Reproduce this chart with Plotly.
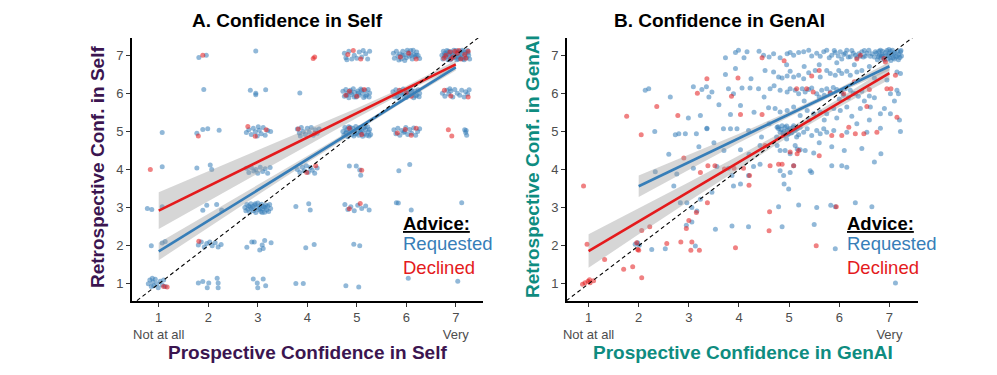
import numpy as np
import plotly.graph_objects as go

# ---- data ----
# Panel A: confidence in self (prospective x, retrospective y), jittered ratings
self_requested = [
    # row 7
    (1.81, 6.94), (1.96, 7.0), (2.96, 7.11),
    (4.75, 7.05), (4.78, 6.93), (4.84, 7.1), (4.9, 6.9), (4.95, 7.0), (5.05, 7.08), (5.1, 6.95),
    (5.18, 7.04), (5.22, 6.9), (5.26, 7.1), (4.8, 6.88), (5.13, 7.12), (5.0, 6.92),
    (5.74, 7.05), (5.76, 6.92), (5.8, 7.1), (5.83, 6.98), (5.87, 7.03), (5.9, 6.9), (5.93, 7.1),
    (5.96, 7.0), (6.0, 6.93), (6.03, 7.06), (6.06, 6.97), (6.09, 7.12), (6.12, 6.9), (6.15, 7.02),
    (6.18, 6.95), (6.21, 7.08), (6.24, 6.99), (6.27, 6.91), (5.85, 6.87), (6.02, 7.13), (6.14, 7.13),
    (5.97, 6.86), (6.1, 7.0), (5.92, 7.0), (6.2, 7.0),
    (6.72, 7.0), (6.74, 6.9), (6.75, 7.1), (6.78, 7.05), (6.8, 6.95), (6.82, 7.12), (6.84, 6.88),
    (6.86, 7.02), (6.88, 6.97), (6.9, 7.09), (6.92, 6.91), (6.94, 7.04), (6.96, 7.13), (6.98, 6.94),
    (7.0, 7.0), (7.02, 6.88), (7.04, 7.08), (7.06, 6.96), (7.08, 7.11), (7.1, 6.92), (7.12, 7.03),
    (7.14, 6.9), (7.16, 7.1), (7.18, 6.98), (7.2, 7.06), (7.22, 6.93), (7.24, 7.12), (7.26, 7.0),
    (7.28, 6.9), (6.77, 6.98), (6.85, 7.1), (6.93, 7.0), (7.01, 7.12), (7.09, 7.0), (7.17, 6.88),
    (7.25, 7.06), (6.89, 6.87), (7.05, 6.9), (7.13, 7.13), (6.81, 7.03),
    # row 6
    (1.91, 6.1), (2.85, 6.08), (2.96, 6.0), (2.96, 5.96), (3.16, 6.09), (3.85, 6.01),
    (4.72, 6.05), (4.75, 5.92), (4.78, 6.1), (4.81, 6.0), (4.84, 5.88), (4.87, 6.08), (4.9, 5.97),
    (4.93, 6.12), (4.96, 6.02), (4.99, 5.9), (5.02, 6.06), (5.05, 5.95), (5.08, 6.11), (5.11, 6.0),
    (5.14, 5.89), (5.17, 6.07), (5.2, 5.96), (5.23, 6.1), (5.26, 6.01), (4.8, 5.95), (4.95, 5.9),
    (5.1, 6.08), (5.25, 5.9), (4.88, 6.02), (5.03, 6.0), (5.18, 5.92),
    (5.73, 6.04), (5.76, 5.91), (5.79, 6.09), (5.82, 5.99), (5.85, 5.87), (5.88, 6.07), (5.91, 5.96),
    (5.94, 6.11), (5.97, 6.01), (6.0, 5.89), (6.03, 6.05), (6.06, 5.94), (6.09, 6.1), (6.12, 5.99),
    (6.15, 5.88), (6.18, 6.06), (6.21, 5.95), (6.24, 6.09), (6.27, 6.0), (5.81, 5.94), (5.96, 5.9),
    (6.11, 6.07), (6.26, 5.91), (5.89, 6.01), (6.04, 5.99), (6.19, 5.93),
    (6.73, 6.0), (6.78, 5.92), (6.82, 6.08), (6.86, 5.98), (6.9, 6.06), (6.94, 5.9), (6.98, 6.1),
    (7.03, 6.0), (7.08, 5.95), (7.12, 6.08), (7.17, 5.9), (7.2, 6.04), (7.24, 5.98), (7.27, 6.09),
    (6.88, 6.12),
    # row 5
    (1.07, 4.97), (1.77, 4.95), (1.89, 5.05), (1.99, 5.07), (2.22, 5.03),
    (2.77, 4.97), (2.82, 5.04), (2.87, 4.92), (2.91, 5.08), (2.95, 4.99), (2.99, 4.88), (3.03, 5.03),
    (3.07, 4.94), (3.11, 5.1), (3.15, 4.9), (3.2, 5.02), (3.26, 5.0), (3.01, 5.12),
    (3.8, 5.06), (3.84, 4.96), (3.88, 5.1), (3.92, 5.0), (3.96, 4.92), (4.0, 5.08), (4.04, 4.98),
    (4.08, 5.1), (4.12, 4.9), (4.16, 5.04), (4.2, 4.95), (4.24, 5.06), (3.86, 4.88),
    (4.72, 5.0), (4.74, 4.9), (4.76, 5.1), (4.78, 4.95), (4.8, 5.05), (4.82, 4.86), (4.84, 5.12),
    (4.86, 4.98), (4.88, 5.03), (4.9, 4.92), (4.92, 5.08), (4.94, 4.88), (4.96, 5.0), (4.98, 5.13),
    (5.0, 4.95), (5.02, 5.06), (5.04, 4.9), (5.06, 5.1), (5.08, 4.97), (5.1, 5.02), (5.12, 4.87),
    (5.14, 5.09), (5.16, 4.94), (5.18, 5.04), (5.2, 4.9), (5.22, 5.12), (5.24, 4.99), (5.26, 5.05),
    (5.28, 4.92), (4.79, 4.98), (4.87, 5.1), (4.97, 4.93), (5.07, 5.0), (5.17, 5.13), (5.25, 4.88),
    (5.75, 5.04), (5.79, 4.94), (5.83, 5.08), (5.87, 4.9), (5.91, 5.02), (5.95, 4.97), (5.99, 5.1),
    (6.03, 4.92), (6.07, 5.05), (6.11, 4.95), (6.15, 5.09), (6.19, 4.9), (6.23, 5.0), (6.27, 5.07),
    (5.97, 5.0),
    (7.18, 5.04), (7.2, 4.97), (7.22, 4.9), (7.21, 5.02),
    # row 4
    (1.07, 4.07), (1.77, 4.04), (2.04, 4.12), (2.07, 4.0),
    (2.77, 4.03), (2.82, 3.92), (2.87, 4.05), (2.92, 3.96), (2.96, 4.0), (3.0, 3.9), (3.05, 4.06),
    (3.1, 3.95), (3.15, 4.02), (3.2, 3.9), (3.25, 4.05),
    (3.8, 4.0), (3.85, 3.92), (3.9, 4.06), (3.94, 3.97), (3.98, 4.1), (4.02, 3.93), (4.06, 4.05),
    (4.1, 3.98), (4.15, 3.9), (4.2, 4.04),
    (4.85, 4.09), (4.99, 4.09), (5.06, 3.99), (5.08, 3.85), (6.07, 4.13), (5.85, 3.97),
    # row 3
    (0.77, 2.98), (0.86, 2.95), (1.07, 3.02),
    (1.89, 2.93), (1.97, 3.06), (2.17, 3.08), (2.27, 2.94),
    (2.74, 3.0), (2.76, 2.92), (2.78, 3.08), (2.8, 2.96), (2.82, 3.04), (2.84, 2.88), (2.86, 3.1),
    (2.88, 2.98), (2.9, 3.03), (2.92, 2.92), (2.94, 3.07), (2.96, 2.87), (2.98, 3.0), (3.0, 3.12),
    (3.02, 2.95), (3.04, 3.05), (3.06, 2.9), (3.08, 3.09), (3.1, 2.97), (3.12, 3.02), (3.14, 2.88),
    (3.16, 3.07), (3.18, 2.94), (3.2, 3.04), (3.22, 2.9), (3.24, 3.08), (3.26, 2.98), (2.85, 3.0),
    (2.95, 3.1), (3.05, 2.98), (3.15, 3.0), (3.09, 2.87),
    (3.77, 3.03), (4.03, 3.1), (4.06, 2.94),
    (4.76, 3.08), (4.82, 2.95), (4.88, 3.02), (4.95, 2.92), (5.02, 3.06), (5.1, 2.98), (5.18, 3.04),
    (5.25, 2.94), (5.8, 3.13), (5.84, 3.12), (6.1, 2.94), (7.12, 3.13),
    # row 2
    (0.85, 2.0), (1.07, 2.07), (1.13, 2.11),
    (1.8, 2.02), (1.86, 2.1), (1.92, 1.97), (1.97, 2.06), (2.03, 2.1), (2.08, 2.0), (2.14, 2.08),
    (2.2, 1.97), (2.26, 2.03),
    (2.78, 1.96), (2.88, 2.1), (2.93, 2.1), (3.04, 1.89), (3.11, 1.93), (3.14, 2.14), (3.27, 2.08),
    (3.09, 2.02), (3.97, 1.95), (4.14, 2.03), (4.94, 2.04), (5.06, 2.0),
    # row 1
    (0.79, 1.0), (0.82, 1.1), (0.85, 0.93), (0.88, 1.05), (0.9, 0.95), (0.93, 1.12), (0.96, 1.0),
    (0.99, 0.9), (1.03, 1.07), (1.07, 0.97), (1.1, 1.1), (1.13, 0.93), (0.87, 1.15),
    (1.8, 1.02), (1.89, 1.06), (1.98, 0.9), (2.01, 1.02), (2.18, 1.15), (2.2, 1.02), (2.2, 0.9),
    (2.91, 1.13), (2.99, 1.02), (3.0, 0.9), (3.11, 1.13), (3.16, 0.95),
    (3.77, 1.01), (3.92, 1.01), (4.78, 0.95), (5.04, 0.92), (6.04, 1.15), (7.04, 1.07),
]
self_declined = [
    (1.89, 7.0), (4.12, 6.91), (4.15, 6.95), (4.82, 7.02), (5.08, 6.9), (4.93, 7.12),
    (5.88, 6.95), (6.05, 7.05), (6.2, 6.9),
    (6.8, 7.0), (6.88, 7.08), (6.95, 6.95), (7.03, 7.05), (7.1, 6.9), (7.18, 7.02), (7.25, 7.1),
    (6.9, 6.9), (7.06, 7.12), (7.2, 6.92), (6.76, 6.92), (6.98, 7.1),
    (4.85, 6.05), (5.0, 5.92), (5.15, 6.1), (4.78, 5.95), (5.86, 6.08), (6.1, 5.92), (6.0, 6.02),
    (6.77, 6.08), (6.9, 5.93), (7.25, 5.9),
    (1.8, 4.88), (2.8, 5.13), (3.17, 5.04), (2.95, 4.87), (3.82, 5.06), (4.15, 4.95),
    (4.85, 5.08), (5.1, 4.92), (5.82, 4.96), (5.98, 5.05), (6.1, 4.9), (6.2, 5.08),
    (6.85, 5.04), (6.92, 4.88),
    (0.83, 4.0), (3.99, 3.92), (4.17, 4.1), (5.1, 3.98),
    (4.85, 2.97), (5.07, 3.11), (1.81, 2.12), (1.17, 0.92), (1.1, 0.93),
]

# Panel B: confidence in GenAI
genai_requested = [
    # top band (~7)
    (3.73, 6.93), (3.93, 7.07), (3.99, 7.13), (4.16, 7.09), (4.49, 7.0), (4.69, 7.04), (4.82, 6.93),
    (4.96, 7.04), (5.02, 7.07), (5.09, 7.0), (5.19, 7.07), (5.29, 7.09), (5.39, 7.13), (5.69, 7.09),
    (5.75, 7.13), (5.85, 7.0), (5.92, 7.07), (6.02, 7.09), (6.09, 7.02), (6.15, 7.13), (6.22, 6.96),
    (6.39, 7.04), (6.45, 7.09), (6.52, 6.98), (6.59, 7.13), (6.65, 7.04), (6.72, 7.09), (6.78, 6.96),
    (6.82, 7.13), (6.85, 7.02), (6.92, 7.07), (6.98, 7.0), (7.02, 7.11), (7.08, 7.04), (7.15, 6.98),
    (7.22, 7.09),
    (6.7, 6.95), (6.74, 7.05), (6.76, 6.88), (6.8, 7.0), (6.83, 6.92), (6.86, 7.1), (6.88, 6.97),
    (6.9, 6.87), (6.93, 6.99), (6.95, 7.12), (6.97, 6.9), (7.0, 7.05), (7.01, 6.93), (7.03, 6.86),
    (7.05, 7.0), (7.06, 7.13), (7.1, 6.9), (7.11, 7.07), (7.13, 6.95), (7.16, 7.1), (7.18, 6.88),
    (7.19, 7.02), (7.21, 6.94), (7.23, 7.12), (7.24, 6.98), (6.79, 7.1), (6.84, 6.98), (6.99, 7.15),
    (7.07, 6.93), (6.62, 6.97), (6.55, 7.05), (6.48, 6.95), (6.35, 6.93), (6.28, 7.05),
    (5.55, 7.05), (5.62, 6.97), (5.8, 6.93), (5.9, 7.12), (5.98, 6.98), (6.05, 6.9), (6.12, 7.05),
    (6.18, 6.95), (6.25, 7.12), (6.32, 7.0), (6.42, 6.97), (6.5, 7.12), (5.45, 6.98), (4.4, 7.1),
    (4.6, 6.95), (4.1, 6.93),
    # ~6.5
    (3.73, 6.49), (3.93, 6.65), (4.24, 6.38), (4.52, 6.6), (4.69, 6.56), (4.79, 6.43), (4.86, 6.4),
    (4.96, 6.45), (5.02, 6.58), (5.09, 6.43), (5.19, 6.47), (5.29, 6.38), (5.39, 6.54), (5.52, 6.6),
    (5.62, 6.43), (5.75, 6.6), (5.82, 6.52), (5.92, 6.47), (5.99, 6.6), (6.05, 6.52), (6.15, 6.58),
    (6.22, 6.47), (6.35, 6.56), (6.45, 6.6), (7.15, 6.56), (7.22, 6.52),
    (6.95, 6.35), (6.7, 6.4), (6.6, 6.7), (6.3, 6.75), (5.95, 6.8), (5.6, 6.75), (5.3, 6.7),
    (4.95, 6.75),
    # ~6
    (2.13, 6.08), (2.2, 6.12), (2.63, 5.9), (3.09, 6.17), (3.26, 6.1), (3.35, 6.17), (3.46, 6.03),
    (3.79, 6.12), (3.89, 5.99), (4.06, 6.14), (4.22, 6.14), (4.39, 6.12), (4.62, 6.12), (4.82, 6.08),
    (4.96, 6.03), (5.02, 6.12), (5.12, 6.08), (5.19, 5.99), (5.26, 6.12), (5.32, 6.03), (5.39, 6.1),
    (5.45, 6.14), (5.55, 5.99), (5.65, 6.08), (5.75, 6.12), (5.82, 6.03), (5.95, 6.1), (6.05, 6.03),
    (6.12, 6.12), (6.22, 6.08), (6.32, 5.99), (7.02, 5.99), (7.15, 6.08), (7.18, 5.99),
    (5.7, 5.95), (5.88, 6.15), (6.0, 5.85), (6.08, 5.95), (6.18, 5.88), (6.28, 6.0), (6.38, 5.92),
    (5.6, 5.9), (6.45, 6.05), (6.6, 5.93), (6.7, 5.88), (6.5, 5.8),
    (4.7, 6.2), (4.5, 5.9), (5.3, 5.8), (7.1, 5.8), (3.6, 5.7), (3.4, 5.9),
    # ~5.5
    (2.99, 5.35), (3.23, 5.42), (3.36, 5.08), (3.83, 5.44), (4.03, 5.68), (4.59, 5.62), (4.72, 5.6),
    (4.82, 5.51), (4.96, 5.55), (5.09, 5.64), (5.22, 5.42), (5.36, 5.55), (5.49, 5.46), (5.62, 5.51),
    (5.75, 5.46), (5.89, 5.6), (6.02, 5.55), (6.15, 5.64), (6.42, 5.6), (6.62, 5.64), (6.82, 5.46),
    (7.02, 5.46),
    (5.4, 5.3), (5.7, 5.3), (5.95, 5.35), (6.25, 5.4), (6.35, 5.2), (6.6, 5.3), (6.9, 5.6),
    (7.2, 5.3), (4.3, 5.5), (4.6, 5.2),
    # ~5
    (2.32, 5.0), (2.73, 4.91), (2.8, 4.94), (2.93, 4.94), (3.15, 4.94), (3.36, 5.07), (3.69, 5.07),
    (3.83, 5.07), (3.96, 5.07), (4.19, 5.02), (4.76, 5.11), (4.79, 5.07), (4.82, 4.98), (4.86, 5.15),
    (4.89, 4.89), (4.92, 5.11), (4.96, 5.02), (4.99, 4.94), (5.02, 5.08), (5.06, 4.98), (5.09, 5.15),
    (5.12, 5.02), (5.16, 5.07), (5.19, 4.91), (5.22, 5.11), (5.29, 4.98), (5.36, 5.07), (5.45, 4.89),
    (5.55, 5.02), (5.62, 4.94), (5.69, 5.07), (5.75, 4.98), (5.89, 5.02), (6.15, 4.98), (6.55, 4.98),
    (6.82, 5.08), (7.22, 5.0),
    (4.78, 5.12), (4.84, 5.05), (4.9, 5.0), (4.95, 5.14), (5.0, 5.04), (5.04, 4.96), (5.08, 5.1),
    (4.88, 4.96), (4.97, 4.92), (5.1, 5.05), (4.45, 4.85), (4.75, 4.85), (4.95, 4.8), (5.15, 4.85),
    # ~4.5
    (4.03, 4.52), (4.42, 4.63), (4.76, 4.63), (4.82, 4.5), (4.92, 4.5), (5.02, 4.41), (5.12, 4.63),
    (5.16, 4.54), (5.22, 4.52), (5.32, 4.5), (5.49, 4.43), (6.83, 4.41),
    (5.6, 4.7), (5.85, 4.6), (6.1, 4.5), (6.45, 4.55), (6.7, 4.2), (4.2, 4.4), (3.7, 4.5),
    (3.5, 4.7), (3.2, 4.6), (2.6, 4.4),
    # ~4
    (2.33, 3.94), (2.76, 3.88), (3.09, 4.03), (3.56, 4.08), (3.79, 4.03), (3.86, 3.84), (4.19, 3.84),
    (4.29, 4.08), (4.42, 4.14), (4.82, 3.97), (4.89, 3.84), (5.02, 3.92), (5.09, 4.1), (5.42, 3.97),
    (5.45, 3.92), (5.85, 4.1), (6.05, 4.1), (6.15, 4.06),
    # ~3.5 and below
    (2.7, 3.57), (2.83, 3.13), (2.96, 3.13), (3.23, 3.22), (3.46, 3.4), (3.89, 3.57), (4.03, 3.62),
    (4.9, 3.62), (4.99, 3.49),
    (3.06, 3.0), (3.16, 2.91), (4.79, 3.02), (5.19, 3.07), (5.55, 3.0), (5.83, 3.06), (5.92, 3.02),
    (6.32, 3.13), (6.65, 3.02),
    (2.95, 2.54), (3.06, 2.62), (3.53, 2.43), (3.86, 2.52), (4.19, 2.5), (4.86, 2.5), (5.5, 2.56),
    (1.93, 2.04), (1.98, 2.08), (2.01, 2.01), (2.26, 1.9), (2.53, 1.92), (3.13, 1.99), (5.92, 1.92),
    (7.12, 1.02),
]
genai_declined = [
    (0.9, 3.57), (0.97, 2.04), (0.99, 1.07), (1.02, 1.11), (0.88, 0.99), (0.93, 1.03), (1.03, 1.03),
    (1.1, 1.08), (1.32, 1.64), (1.7, 1.38), (1.88, 1.45), (2.06, 1.16), (1.96, 2.08), (1.98, 1.9),
    (2.0, 1.88), (2.06, 2.4), (2.22, 2.5), (1.76, 5.4), (2.05, 4.91), (2.36, 5.65), (2.78, 5.42),
    (3.17, 6.0), (3.36, 6.38), (3.85, 5.92), (3.98, 6.4), (4.46, 6.93), (2.84, 2.1), (3.06, 2.1),
    (3.04, 1.88), (3.21, 1.88), (2.56, 2.06), (2.95, 2.45), (3.15, 2.87), (3.37, 3.13), (3.23, 3.92),
    (3.38, 4.1), (3.52, 4.1), (3.71, 4.01), (3.9, 4.03), (4.09, 4.03), (4.21, 3.84), (4.2, 3.59),
    (3.93, 1.95), (4.61, 2.89), (4.6, 2.39), (4.03, 5.44), (4.46, 5.44), (4.52, 4.63), (4.62, 4.1),
    (4.79, 4.14), (4.86, 4.14), (5.09, 4.1), (5.16, 4.41), (5.19, 4.5), (5.02, 4.46), (5.54, 2.0),
    (5.94, 3.02), (5.45, 6.45), (5.15, 6.12), (5.35, 6.12), (5.48, 6.03), (5.82, 6.01), (6.09, 5.99),
    (5.6, 4.36), (5.85, 4.89), (6.05, 4.89), (6.32, 4.94), (6.49, 4.94), (6.75, 4.98), (6.19, 5.11),
    (7.15, 5.37), (6.95, 6.12), (7.03, 6.12), (7.12, 6.47), (6.89, 6.91), (6.92, 6.82), (6.35, 6.9),
    (6.42, 7.0), (4.9, 6.85), (5.6, 6.6), (6.3, 6.3), (6.6, 6.1), (6.55, 5.65), (2.9, 4.3), (3.0, 2.66),
]

# fitted lines (end points) and half-width of the confidence band at each x
self_req_fit = ([1, 7], [1.85, 6.68])
self_dec_fit = ([1, 7], [2.92, 6.76])
genai_req_fit = ([2, 7], [3.56, 6.71])
genai_dec_fit = ([1, 7], [1.86, 6.53])
self_req_band = ([1, 2, 3, 4, 5, 6, 7], [0.23, 0.18, 0.13, 0.09, 0.06, 0.05, 0.08])
self_dec_band = ([1, 2, 3, 4, 5, 6, 7], [0.48, 0.39, 0.30, 0.21, 0.13, 0.07, 0.10])
genai_req_band = ([2, 3, 4, 5, 6, 7], [0.28, 0.19, 0.12, 0.07, 0.06, 0.11])
genai_dec_band = ([1, 2, 3, 4, 5, 6, 7], [0.44, 0.34, 0.25, 0.17, 0.11, 0.11, 0.17])

tick_vals = [1, 2, 3, 4, 5, 6, 7]
x_tick_text = ["1<br>Not at all", "2", "3", "4", "5", "6", "7<br>Very"]

BLUE = "#377EB8"
RED = "#E41A1C"
PURPLE = "#3B1550"
TEAL = "#0E8C80"
FONT = "Liberation Sans, Arial, sans-serif"

# the page body adds an 8px margin, so the figure is 8px smaller than the window
W, H = 989, 367


def px(x):
    return (x - 8) / W


def py(y):
    return 1 - (y - 8) / H


fig = go.Figure()


def add_panel(xa, ya, req, dec, fits, bands):
    for pts, col in [(req, BLUE), (dec, RED)]:
        fig.add_trace(go.Scatter(
            x=[p[0] for p in pts], y=[p[1] for p in pts], mode="markers",
            marker=dict(color=col, size=5, opacity=0.55, line=dict(width=0)),
            xaxis=xa, yaxis=ya, showlegend=False, hoverinfo="skip"))
    for (fx, fy), (bx, bw) in zip(fits, bands):
        bx = np.array(bx, dtype=float)
        by = np.interp(bx, fx, fy)
        lo = by - np.array(bw)
        hi = by + np.array(bw)
        fig.add_trace(go.Scatter(
            x=list(bx) + list(bx[::-1]), y=list(hi) + list(lo[::-1]),
            fill="toself", fillcolor="rgba(153,153,153,0.4)", line=dict(width=0),
            mode="lines", xaxis=xa, yaxis=ya, showlegend=False, hoverinfo="skip"))
    for (fx, fy), col in zip(fits, [BLUE, RED]):
        fig.add_trace(go.Scatter(
            x=fx, y=fy, mode="lines", line=dict(color=col, width=2.6),
            xaxis=xa, yaxis=ya, showlegend=False, hoverinfo="skip"))
    fig.add_trace(go.Scatter(
        x=[0, 8], y=[0, 8], mode="lines", line=dict(color="black", width=1.1, dash="4px,3px"),
        xaxis=xa, yaxis=ya, showlegend=False, hoverinfo="skip"))


add_panel("x", "y", self_requested, self_declined,
          [self_req_fit, self_dec_fit], [self_req_band, self_dec_band])
add_panel("x2", "y2", genai_requested, genai_declined,
          [genai_req_fit, genai_dec_fit], [genai_req_band, genai_dec_band])

axis_common = dict(
    showline=True, linecolor="black", linewidth=1.6, ticks="outside", ticklen=4,
    tickcolor="#333333", tickwidth=1, showgrid=False, zeroline=False,
    tickfont=dict(family=FONT, size=13, color="#4D4D4D"), tickvals=tick_vals,
    automargin=False,
)
ydom = [py(301), py(38)]
fig.update_layout(
    width=W, height=H, margin=dict(l=0, r=0, t=0, b=0),
    plot_bgcolor="white", paper_bgcolor="white",
    xaxis=dict(axis_common, domain=[px(132), px(483)], range=[0.46, 7.55],
               ticktext=x_tick_text, anchor="y"),
    yaxis=dict(axis_common, domain=ydom, range=[0.55, 7.45], anchor="x"),
    xaxis2=dict(axis_common, domain=[px(567), px(918)], range=[0.57, 7.57],
                ticktext=x_tick_text, anchor="y2"),
    yaxis2=dict(axis_common, domain=ydom, range=[0.55, 7.45], anchor="x2"),
)

ann = []
# panel titles (hung from the top edge so they are not clipped)
ann.append(dict(text="<b>A. Confidence in Self</b>", x=px(287), y=1, yanchor="top",
                font=dict(size=19, color="black")))
ann.append(dict(text="<b>B. Confidence in GenAI</b>", x=px(719), y=1, yanchor="top",
                font=dict(size=19, color="black")))
# axis titles
ann.append(dict(text="<b>Prospective Confidence in Self</b>", x=px(307.5), y=py(352),
                font=dict(size=19, color=PURPLE)))
ann.append(dict(text="<b>Prospective Confidence in GenAI</b>", x=px(742.5), y=py(352),
                font=dict(size=19, color=TEAL)))
ann.append(dict(text="<b>Retrospective Conf. in Self</b>", x=px(97), y=py(167),
                textangle=-90, font=dict(size=19, color=PURPLE)))
ann.append(dict(text="<b>Retrospective Conf. in GenAI</b>", x=px(532), y=py(167),
                textangle=-90, font=dict(size=19, color=TEAL)))
# legends
for x0 in (401, 845):
    ann.append(dict(text="<u><b>Advice:</b></u>", x=px(x0), y=py(223), xanchor="left",
                    font=dict(size=18.5, color="black")))
    ann.append(dict(text="Requested", x=px(x0), y=py(244), xanchor="left",
                    font=dict(size=18.5, color=BLUE)))
    ann.append(dict(text="Declined", x=px(x0), y=py(267), xanchor="left",
                    font=dict(size=18.5, color=RED)))
for a in ann:
    a.setdefault("xanchor", "center")
    a.setdefault("yanchor", "middle")
    a.update(xref="paper", yref="paper", showarrow=False)
    a["font"]["family"] = FONT
fig.update_layout(annotations=ann)

fig.write_html("out.html")
